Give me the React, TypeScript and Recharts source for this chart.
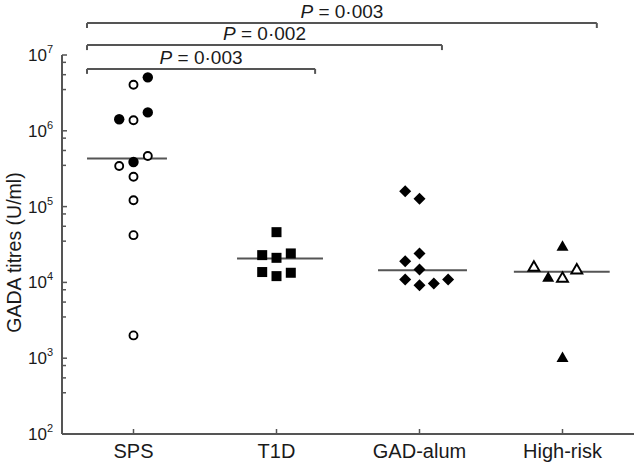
import React from 'react';
import { ScatterChart, Scatter, XAxis, YAxis, ReferenceLine } from 'recharts';

// ---------- data ----------
const categories = ['SPS', 'T1D', 'GAD-alum', 'High-risk'];
const categoryTicks = [1, 2, 3, 4];
const majorTicks = [1e2, 1e3, 1e4, 1e5, 1e6, 1e7];
const minorMultipliers = [3.5, 5.5, 8];

const spsOpen = [
  { x: 1, y: 4.05e6 }, { x: 1, y: 1.38e6 }, { x: 1.1, y: 4.66e5 }, { x: 0.9, y: 3.44e5 },
  { x: 1, y: 2.48e5 }, { x: 1, y: 1.21e5 }, { x: 1, y: 4.2e4 }, { x: 1, y: 2.0e3 },
];
const spsFilled = [
  { x: 1.1, y: 5.07e6 }, { x: 0.9, y: 1.42e6 }, { x: 1.1, y: 1.75e6 }, { x: 1, y: 3.88e5 },
];
const t1d = [
  { x: 2, y: 4.6e4 }, { x: 1.9, y: 2.29e4 }, { x: 2, y: 2.11e4 }, { x: 2.1, y: 2.41e4 },
  { x: 1.9, y: 1.37e4 }, { x: 2, y: 1.21e4 }, { x: 2.1, y: 1.34e4 },
];
const gadAlum = [
  { x: 2.9, y: 1.59e5 }, { x: 3, y: 1.27e5 }, { x: 3, y: 2.41e4 }, { x: 2.9, y: 1.9e4 },
  { x: 3, y: 1.48e4 }, { x: 2.9, y: 1.09e4 }, { x: 3, y: 9.2e3 }, { x: 3.1, y: 9.7e3 },
  { x: 3.2, y: 1.09e4 },
];
const highRiskOpen = [{ x: 3.8, y: 1.61e4 }, { x: 4, y: 1.15e4 }, { x: 4.1, y: 1.48e4 }];
const highRiskFilled = [{ x: 4, y: 3.0e4 }, { x: 3.9, y: 1.17e4 }, { x: 4, y: 1.02e3 }];

const medians = [4.3e5, 2.07e4, 1.45e4, 1.38e4];
const medianStart = [0.675, 1.724, 2.71, 3.66];
const medianEnd = [1.234, 2.325, 3.332, 4.33];

const bracketLabels = ['P = 0·003', 'P = 0·002', 'P = 0·003'];
const bracketStart = [0.675, 0.675, 0.675];
const bracketEnd = [2.27, 3.157, 4.24];
const bracketLevel = [6.55e6, 1.35e7, 2.64e7];
const bracketDrop = 0.86;

// ---------- styling ----------
const FONT = '"Liberation Sans", Arial, Helvetica, sans-serif';
const TEXT = '#1a1a1a';
const LINE = '#555';
const PLOT_LEFT = 62;
const PLOT_BOTTOM = 434;

const yTicks: number[] = [];
majorTicks.forEach((m, i) => {
  yTicks.push(m);
  if (i < majorTicks.length - 1) minorMultipliers.forEach((k) => yTicks.push(m * k));
});

const XTick = (props: any) => {
  const { x, payload } = props;
  const label = categories[categoryTicks.indexOf(payload.value)];
  return (
    <g>
      <line x1={x} x2={x} y1={PLOT_BOTTOM} y2={PLOT_BOTTOM - 5} stroke={LINE} strokeWidth={1.5} />
      <text x={x} y={PLOT_BOTTOM + 24} textAnchor="middle" fontSize={20} fontFamily={FONT} fill={TEXT}>
        {label}
      </text>
    </g>
  );
};

const YTick = (props: any) => {
  const { y, payload } = props;
  const v = payload.value;
  const exp = Math.log10(v);
  const isMajor = Math.abs(exp - Math.round(exp)) < 1e-6;
  return (
    <g>
      <line x1={PLOT_LEFT} x2={PLOT_LEFT + (isMajor ? 5 : 4)} y1={y} y2={y} stroke={LINE} strokeWidth={1.5} />
      {isMajor && (
        <text x={PLOT_LEFT - 9} y={y + 6} textAnchor="end" fontSize={17} fontFamily={FONT} fill={TEXT}>
          10
          <tspan dy={-8} fontSize={11}>{Math.round(exp)}</tspan>
        </text>
      )}
    </g>
  );
};

const OpenCircle = (p: any) => (
  <circle cx={p.cx} cy={p.cy} r={4} fill="#fff" stroke="#000" strokeWidth={1.9} />
);
const FilledCircle = (p: any) => <circle cx={p.cx} cy={p.cy} r={5.2} fill="#000" />;
const Square = (p: any) => <rect x={p.cx - 5} y={p.cy - 5} width={10} height={10} fill="#000" />;
const Diamond = (p: any) => (
  <polygon points={`${p.cx},${p.cy - 6} ${p.cx + 6},${p.cy} ${p.cx},${p.cy + 6} ${p.cx - 6},${p.cy}`} fill="#000" />
);
const OpenTriangle = (p: any) => (
  <polygon
    points={`${p.cx},${p.cy - 5.5} ${p.cx + 5.5},${p.cy + 4} ${p.cx - 5.5},${p.cy + 4}`}
    fill="#fff"
    stroke="#000"
    strokeWidth={1.9}
  />
);
const FilledTriangle = (p: any) => (
  <polygon points={`${p.cx},${p.cy - 6} ${p.cx + 6},${p.cy + 4.5} ${p.cx - 6},${p.cy + 4.5}`} fill="#000" />
);

const PLabel = (text: string) => (props: any) => {
  const vb = props.viewBox || {};
  const cx = (vb.x || 0) + (vb.width || 0) / 2;
  const cy = vb.y || 0;
  const rest = text.slice(1);
  return (
    <text x={cx} y={cy - 5} textAnchor="middle" fontSize={19} fontFamily={FONT} fill={TEXT}>
      <tspan fontStyle="italic">{text[0]}</tspan>
      {rest}
    </text>
  );
};

const YLabel = (props: any) => {
  const vb = props.viewBox || {};
  const cx = 14;
  const cy = (vb.y || 0) + (vb.height || 0) / 2 + 8;
  return (
    <text
      x={cx}
      y={cy}
      transform={`rotate(-90, ${cx}, ${cy})`}
      textAnchor="middle"
      dominantBaseline="central"
      fontSize={19.5}
      fontFamily={FONT}
      fill={TEXT}
    >
      GADA titres (U/ml)
    </text>
  );
};

export default function App() {
  return (
    <div style={{ width: 634, height: 464, background: '#fff' }}>
      <style>{'body{margin:0;background:#fff}'}</style>
      <ScatterChart width={634} height={464} margin={{ top: 55, right: 0, bottom: 0, left: 0 }}>
        <XAxis
          type="number"
          dataKey="x"
          domain={[0.5, 4.5]}
          ticks={categoryTicks}
          tick={<XTick />}
          tickLine={false}
          axisLine={{ stroke: LINE, strokeWidth: 2 }}
          height={30}
          allowDataOverflow
        />
        <YAxis
          type="number"
          dataKey="y"
          scale="log"
          domain={[1e2, 1e7]}
          ticks={yTicks}
          interval={0}
          tick={<YTick />}
          tickLine={false}
          axisLine={{ stroke: LINE, strokeWidth: 2 }}
          width={62}
          allowDataOverflow
          label={<YLabel />}
        />
        {medians.map((m, i) => (
          <ReferenceLine
            key={'med' + i}
            segment={[{ x: medianStart[i], y: m }, { x: medianEnd[i], y: m }]}
            stroke={LINE}
            strokeWidth={2}
            ifOverflow="visible"
          />
        ))}
        {bracketLabels.map((lab, i) => (
          <ReferenceLine
            key={'br' + i}
            segment={[{ x: bracketStart[i], y: bracketLevel[i] }, { x: bracketEnd[i], y: bracketLevel[i] }]}
            stroke={LINE}
            strokeWidth={2}
            ifOverflow="visible"
            label={PLabel(lab)}
          />
        ))}
        {bracketLabels.map((lab, i) => (
          <ReferenceLine
            key={'brl' + i}
            segment={[{ x: bracketStart[i], y: bracketLevel[i] }, { x: bracketStart[i], y: bracketLevel[i] * bracketDrop }]}
            stroke={LINE}
            strokeWidth={2}
            ifOverflow="visible"
          />
        ))}
        {bracketLabels.map((lab, i) => (
          <ReferenceLine
            key={'brr' + i}
            segment={[{ x: bracketEnd[i], y: bracketLevel[i] }, { x: bracketEnd[i], y: bracketLevel[i] * bracketDrop }]}
            stroke={LINE}
            strokeWidth={2}
            ifOverflow="visible"
          />
        ))}
        <Scatter data={spsOpen} shape={OpenCircle} isAnimationActive={false} />
        <Scatter data={spsFilled} shape={FilledCircle} isAnimationActive={false} />
        <Scatter data={t1d} shape={Square} isAnimationActive={false} />
        <Scatter data={gadAlum} shape={Diamond} isAnimationActive={false} />
        <Scatter data={highRiskOpen} shape={OpenTriangle} isAnimationActive={false} />
        <Scatter data={highRiskFilled} shape={FilledTriangle} isAnimationActive={false} />
      </ScatterChart>
    </div>
  );
}
